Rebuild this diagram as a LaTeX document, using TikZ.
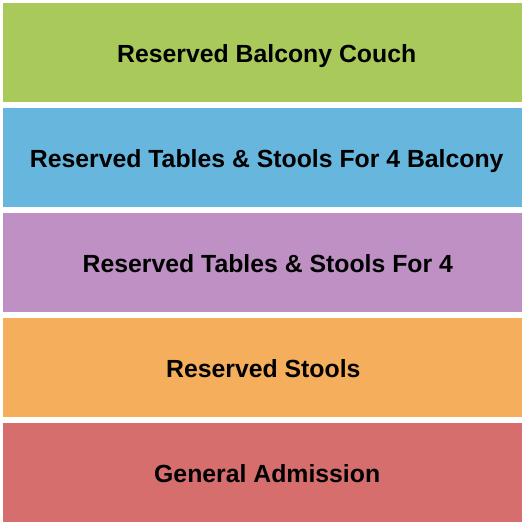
\documentclass[tikz,border=0pt]{standalone}
\usepackage{fontspec}
\setmainfont{Liberation Sans}
\usepackage{xcolor}

\definecolor{couchgreen}{HTML}{A9CA5B}
\definecolor{balconyblue}{HTML}{66B6DE}
\definecolor{tablepurple}{HTML}{BE90C3}
\definecolor{stoolorange}{HTML}{F5AE5B}
\definecolor{generalred}{HTML}{D66E6E}

\tikzset{
  band/.style={draw=none, inner sep=0pt, minimum width=519pt, minimum height=99pt},
  bandlabel/.style={inner sep=0pt, anchor=base, font=\fontsize{24.8}{28}\selectfont\bfseries, text=black}
}

\begin{document}
\begin{tikzpicture}[x=1pt, y=-1pt]
            % Page frame, same size as the reference
            \useasboundingbox (0,0) rectangle (525,525);
            % Bands from top to bottom
            \node[band, fill=couchgreen] (couch) at (262.5,52.5) {};
            \node[band, fill=balconyblue] (balcony) at (262.5,157.5) {};
            \node[band, fill=tablepurple] (tables) at (262.5,262.5) {};
            \node[band, fill=stoolorange] (stools) at (262.5,367.5) {};
            \node[band, fill=generalred] (general) at (262.5,472.5) {};
            % Labels, placed on their baselines
            \node[bandlabel] (couchtext) at ([xshift=4.2pt,yshift=-9.8pt]couch.center) {Reserved Balcony Couch};
            \node[bandlabel] (balconytext) at ([xshift=4.2pt,yshift=-9.8pt]balcony.center) {Reserved Tables \& Stools For 4 Balcony};
            \node[bandlabel] (tablestext) at ([xshift=5.3pt,yshift=-10pt]tables.center) {Reserved Tables \& Stools For 4};
            \node[bandlabel] (stoolstext) at ([xshift=0.8pt,yshift=-10pt]stools.center) {Reserved Stools};
            \node[bandlabel] (generaltext) at ([xshift=4.7pt,yshift=-10pt]general.center) {General Admission};
        \end{tikzpicture}
\end{document}
